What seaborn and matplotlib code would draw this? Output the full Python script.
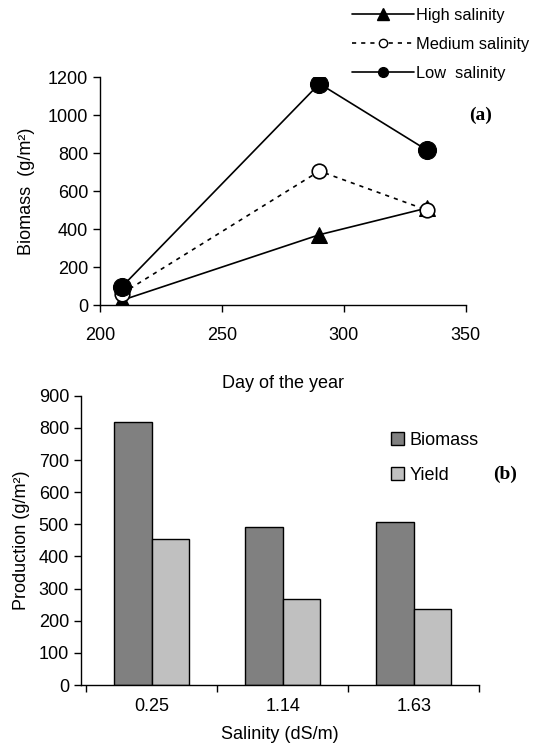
import matplotlib
matplotlib.use("Agg")
import matplotlib.pyplot as plt
from matplotlib.lines import Line2D
from matplotlib.patches import Patch
import seaborn as sns
import pandas as pd

# ---- data ----
days = [209, 290, 334]
high_salinity = [25, 370, 510]
medium_salinity = [60, 705, 500]
low_salinity = [96, 1165, 816]

salinity_labels = ["0.25", "1.14", "1.63"]
biomass = [817, 492, 508]
yield_vals = [454, 268, 235]

sns.set_theme(style="white")
plt.rcParams['font.family'] = ['Liberation Sans', 'DejaVu Sans']
plt.rcParams['axes.edgecolor'] = 'black'
plt.rcParams['axes.linewidth'] = 1.0
plt.rcParams['xtick.color'] = 'black'
plt.rcParams['ytick.color'] = 'black'
plt.rcParams['text.color'] = 'black'
plt.rcParams['axes.labelcolor'] = 'black'

fig = plt.figure(figsize=(5.46, 7.44), dpi=100)
FS = 13

# ---------------- (a) ----------------
ax1 = fig.add_axes([0.183, 0.590, 0.670, 0.3065])
sns.lineplot(x=days, y=high_salinity, ax=ax1, color='black', lw=1.2,
             marker='^', markersize=12, markeredgecolor='black')
sns.lineplot(x=days, y=medium_salinity, ax=ax1, color='black', lw=1.2,
             linestyle=(0, (2.5, 3)), marker='o', markersize=10.5,
             markerfacecolor='white', markeredgecolor='black', markeredgewidth=1.2)
sns.lineplot(x=days, y=low_salinity, ax=ax1, color='black', lw=1.2,
             marker='o', markersize=13, markeredgecolor='black')
ax1.set_xlim(200, 350)
ax1.set_ylim(0, 1200)
ax1.set_xticks([200, 250, 300, 350])
ax1.set_yticks(range(0, 1201, 200))
for s in ['top', 'right']:
    ax1.spines[s].set_visible(False)
ax1.tick_params(direction='out', length=5, width=1, labelsize=FS, left=True, bottom=True)
ax1.tick_params(axis='x', pad=11)
ax1.set_xlabel("Day of the year", fontsize=FS, labelpad=22)
ax1.set_ylabel("Biomass  (g/m²)", fontsize=FS, labelpad=9)
ax1.text(1.04, 0.83, "(a)", transform=ax1.transAxes, fontsize=14,
         fontweight='bold', family='Liberation Serif', ha='center', va='center')

handles_a = [
    Line2D([], [], color='black', lw=1.2, marker='^', markersize=8),
    Line2D([], [], color='black', lw=1.2, linestyle=(0, (2.5, 3)), marker='o',
           markersize=6, markerfacecolor='white'),
    Line2D([], [], color='black', lw=1.2, marker='o', markersize=7),
]
fig.legend(handles_a, ["High salinity", "Medium salinity", "Low  salinity"],
           loc='upper left', bbox_to_anchor=(0.632, 0.998), frameon=False,
           fontsize=11.8, handlelength=3.8, handletextpad=0.1, labelspacing=0.85,
           borderaxespad=0.0)

# ---------------- (b) ----------------
ax2 = fig.add_axes([0.148, 0.0793, 0.730, 0.3887])
df = pd.DataFrame({
    "Salinity": salinity_labels * 2,
    "Type": ["Biomass"] * 3 + ["Yield"] * 3,
    "Production": biomass + yield_vals,
})
sns.barplot(data=df, x="Salinity", y="Production", hue="Type", ax=ax2,
            order=salinity_labels, hue_order=["Biomass", "Yield"],
            palette={"Biomass": "#808080", "Yield": "#c0c0c0"},
            width=0.57, gap=0, edgecolor='black', linewidth=1.0, legend=False)
ax2.set_xlim(-0.54, 2.5)
ax2.set_ylim(0, 900)
ax2.set_yticks(range(0, 901, 100))
ax2.set_xticks([0, 1, 2])
ax2.set_xticklabels(salinity_labels)
ax2.set_xticks([-0.5, 0.5, 1.5, 2.5], minor=True)
ax2.tick_params(axis='x', which='major', length=0, labelsize=FS, pad=9)
ax2.tick_params(axis='x', which='minor', direction='out', length=5, width=1, bottom=True)
ax2.tick_params(axis='y', direction='out', length=5, width=1, labelsize=FS, left=True)
for s in ['top', 'right']:
    ax2.spines[s].set_visible(False)
ax2.set_xlabel("Salinity (dS/m)", fontsize=FS, labelpad=8)
ax2.set_ylabel("Production (g/m²)", fontsize=FS, labelpad=6)
ax2.text(1.065, 0.73, "(b)", transform=ax2.transAxes, fontsize=14,
         fontweight='bold', family='Liberation Serif', ha='center', va='center')

handles_b = [Patch(facecolor="#808080", edgecolor='black', lw=1.0),
             Patch(facecolor="#c0c0c0", edgecolor='black', lw=1.0)]
ax2.legend(handles_b, ["Biomass", "Yield"], loc='upper left',
           bbox_to_anchor=(0.76, 0.90), frameon=False, fontsize=FS,
           handlelength=0.75, handleheight=0.75, handletextpad=0.3,
           labelspacing=1.0, borderaxespad=0.0)

fig.savefig("out.png", dpi=100)
